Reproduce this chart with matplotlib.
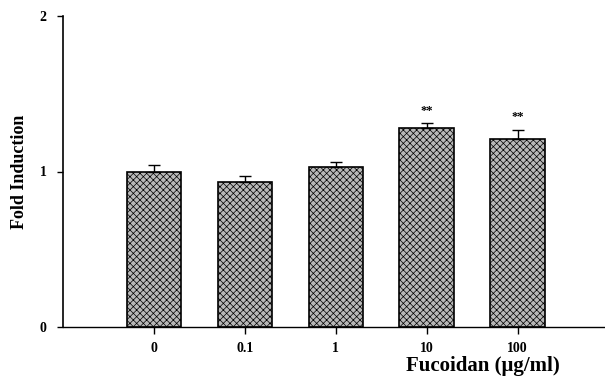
import matplotlib
matplotlib.use("Agg")
import matplotlib.pyplot as plt
import numpy as np

doses = ["0", "0.1", "1", "10", "100"]
fold = [1.00, 0.93, 1.03, 1.28, 1.21]
err = [0.04, 0.04, 0.03, 0.03, 0.06]
signif = ["", "", "", "**", "**"]

plt.rcParams["font.family"] = ["Liberation Serif", "DejaVu Serif"]
plt.rcParams["font.weight"] = "bold"
plt.rcParams["hatch.color"] = "#6e6e6e"
plt.rcParams["hatch.linewidth"] = 0.5

fig = plt.figure(figsize=(6.05, 3.78), dpi=100)
ax = fig.add_axes([63 / 605, 51 / 378, 542 / 605, 311 / 378])

x = np.arange(len(doses))
ax.bar(x, fold, width=0.6, color="#b8b8b8", edgecolor="black", linewidth=1.2,
       hatch="xxxxx", zorder=2)
ax.errorbar(x, fold, yerr=[np.zeros(len(err)), err], fmt="none", ecolor="black",
            elinewidth=1.0, capsize=4, capthick=1.0, zorder=3)
for xi, v, e, s in zip(x, fold, err, signif):
    if s:
        ax.text(xi, v + e + 0.04, s, ha="center", va="bottom", fontsize=9)

ax.set_xlim(-1, 4.96)
ax.set_ylim(0, 2)
ax.set_yticks([0, 1, 2])
ax.set_xticks(x)
ax.set_xticklabels(doses, fontsize=10)
ax.tick_params(axis="y", labelsize=10, length=4, width=1, pad=8)
ax.tick_params(axis="x", length=5, width=1, pad=6)
for side in ["top", "right"]:
    ax.spines[side].set_visible(False)
ax.spines["left"].set_linewidth(1.2)
ax.spines["bottom"].set_linewidth(1.0)

ax.set_ylabel("Fold Induction", fontsize=13, fontweight="bold", labelpad=8)
ax.set_xlabel("Fucoidan (μg/ml)", fontsize=15, fontweight="bold")
ax.xaxis.set_label_coords(0.775, -0.125)
ax.xaxis.label.set_va("center")

fig.savefig("out.png", dpi=100)
